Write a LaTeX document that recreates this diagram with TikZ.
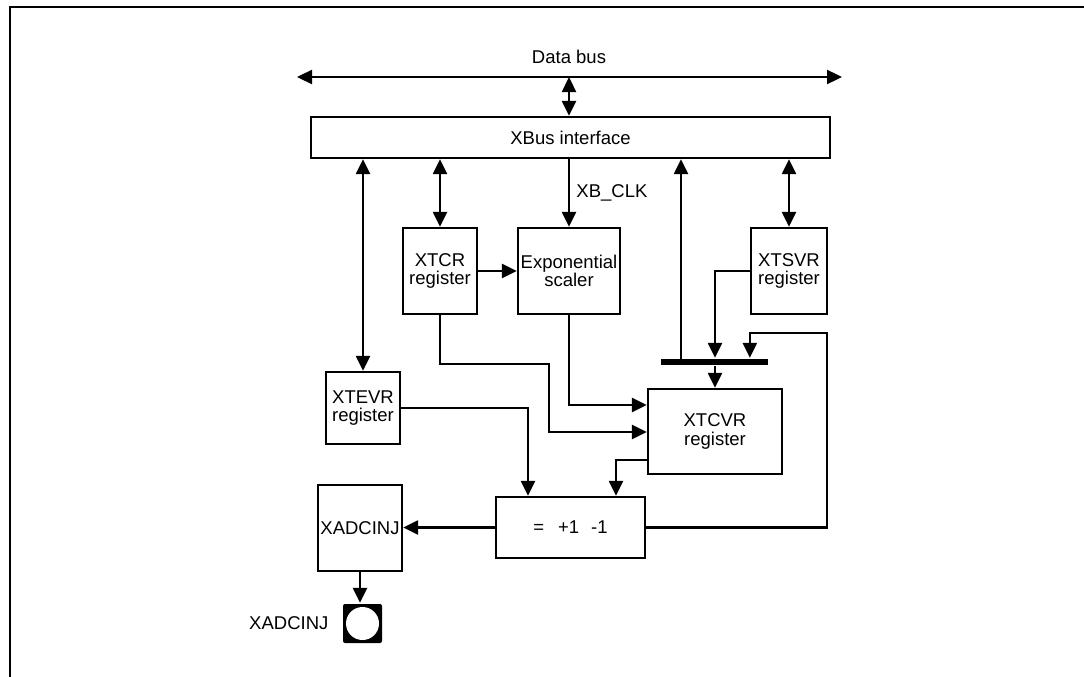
\documentclass[tikz,border=0pt]{standalone}
\usepackage{fontspec}
\setmainfont{Liberation Sans}
\usetikzlibrary{arrows.meta,positioning}

\begin{document}
\begin{tikzpicture}[>={Triangle[length=15pt,width=14pt]}, x=1pt, y=-1pt, line width=2.3pt,
  every node/.style={font=\fontsize{18.5}{18.5}\selectfont},
  box/.style={draw, inner sep=0pt, align=center}]
  \useasboundingbox (0,0) rectangle (1084,677);
  \draw (10,677) -- (10,7) -- (1084,7);

  \node[box, minimum width=519, minimum height=41] (xbus) at (570.5,137.5) {XBus interface};
  \node[box, minimum width=74, minimum height=86] (xtcr) at (440,271) {XTCR\\register};
  \node[box, minimum width=102, minimum height=86] (expo) at (569,271) {Exponential\\scaler};
  \node[box, minimum width=76, minimum height=86] (xtsvr) at (789,271) {XTSVR\\register};
  \node[box, minimum width=74, minimum height=72] (xtevr) at (363,408) {XTEVR\\register};
  \node[box, minimum width=134, minimum height=85] (xtcvr) at (715,431.5) {XTCVR\\register};
  \node[box, minimum width=149, minimum height=61] (sum) at (570.5,527.5) {=\hspace{14pt}+1\hspace{12pt}-1};
  \node[box, minimum width=84, minimum height=86] (xadc) at (360,528) {XADCINJ};
  \node[fill, minimum width=107, minimum height=6, inner sep=0pt] (bar) at (714.5,362) {};
  \node[fill, rounded corners=2pt, minimum size=39, inner sep=0pt] (pin) at (362.5,623.5) {};
  \fill[white] (pin.center) circle (16.5);
  \node[left=9pt of pin] (pinlbl) {XADCINJ};

  \coordinate (busL) at (297,77);
  \coordinate (busR) at (842,77);
  \coordinate (busM) at (569,77);
  \draw[<->] (busL) -- (busR);
  \node (dbus) at (569,57) {Data bus};
  \draw[<->] (busM) -- (busM |- xbus.north);

  \draw[<->] (xtevr.north) -- (xtevr.north |- xbus.south);
  \draw[<->] (xtcr.north) -- (xtcr.north |- xbus.south);
  \draw[->] (expo.north |- xbus.south) -- node[right=3pt] (clk) {XB\_CLK} (expo.north);
  \draw[<->] (xtsvr.north) -- (xtsvr.north |- xbus.south);
  \draw[->] (xtcr.east) -- (expo.west);

  \coordinate (tap) at (681,362);
  \draw[->] (tap) -- (tap |- xbus.south);
  \draw[->] (xtsvr.west) -| (xtcvr.north |- bar.north);
  \draw[->] (xtcvr.north |- bar.south) -- (xtcvr.north);
  \coordinate (fb) at (827,333);
  \draw[->] (sum.east) -| (fb) -| (xtsvr.west |- bar.north);

  \coordinate (c1) at (549,364);
  \coordinate (c2) at (549,432);
  \draw[->] (xtcr.south) |- (c1) -- (c2) -- (c2 -| xtcvr.west);
  \coordinate (c3) at (569,405);
  \draw[->] (expo.south) -- (c3) -- (c3 -| xtcvr.west);
  \coordinate (c4) at (528,408);
  \draw[->] (xtevr.east) -- (c4) -- (c4 |- sum.north);
  \coordinate (c5) at (616,460);
  \draw[->] (c5 -| xtcvr.west) -- (c5) -- (c5 |- sum.north);

  \draw[->] (sum.west) -- (sum.west -| xadc.east);
  \draw[->] (xadc.south) -- (xadc.south |- pin.north);
\end{tikzpicture}
\end{document}
